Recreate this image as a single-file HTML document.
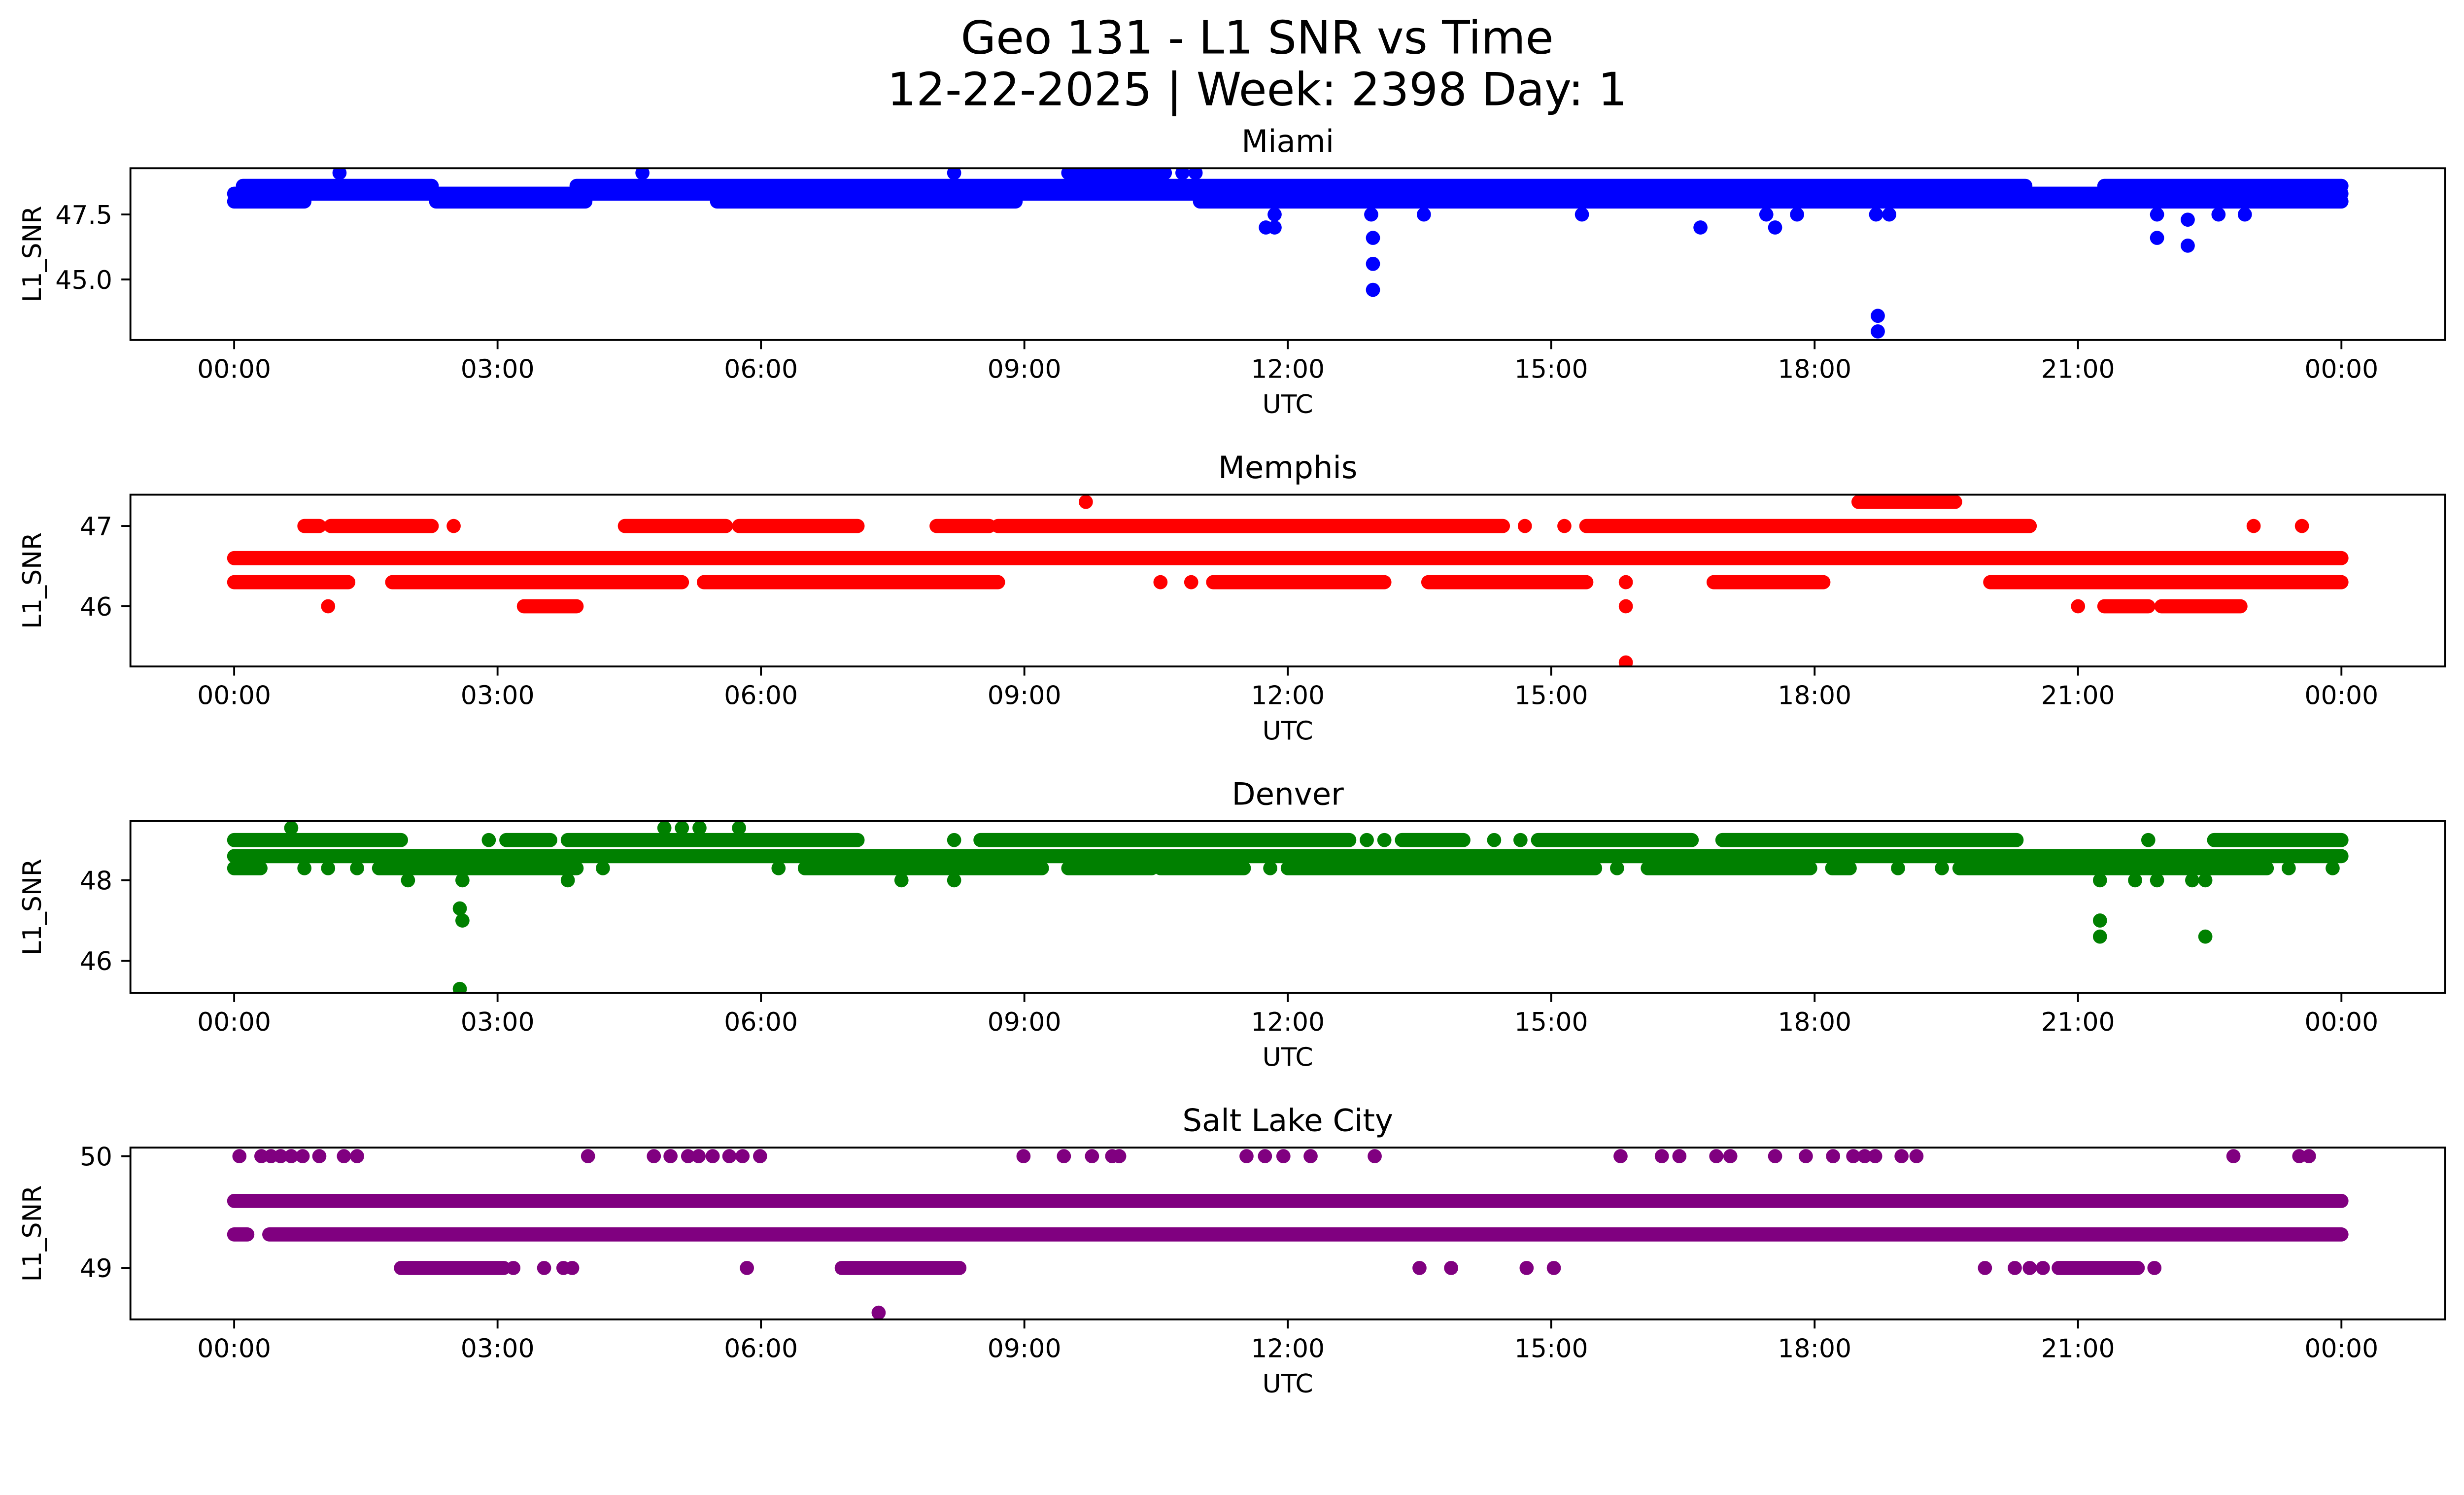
<!DOCTYPE html>
<html><head><meta charset="utf-8"><title>Geo 131 - L1 SNR vs Time</title>
<style>html,body{margin:0;padding:0;background:#fff;overflow:hidden}svg{display:block;width:100vw;height:calc(100vw * 3033 / 5278)}text{font-family:"DejaVu Sans","Liberation Sans",sans-serif;fill:#000}</style>
</head><body>
<svg id="chart" xmlns="http://www.w3.org/2000/svg" viewBox="0 0 1568 901" preserveAspectRatio="xMidYMid meet">
<text x="800" y="34" font-size="29" text-anchor="middle">Geo 131 - L1 SNR vs Time</text>
<text x="800" y="67" font-size="29" text-anchor="middle">12-22-2025 | Week: 2398 Day: 1</text>
</svg>
<script>
// ---- data (hours UTC, SNR values) ----
const xTickLabels = ["00:00","03:00","06:00","09:00","12:00","15:00","18:00","21:00","00:00"];
const xTickHours = [0,3,6,9,12,15,18,21,24];
const panelNames = ["Miami","Memphis","Denver","Salt Lake City"];
const panelColors = ["#0000ff","#ff0000","#008000","#800080"];
const yMins = [42.67, 45.25, 45.2, 48.54];
const yMaxs = [49.28, 47.39, 49.47, 50.077];
const yTicksMiami = [45.0, 47.5];
const yTicksMemphis = [46, 47];
const yTicksDenver = [46, 48];
const yTicksSLC = [49, 50];
const yTickLabelsMiami = ["45.0","47.5"];
const yTickLabelsMemphis = ["46","47"];
const yTickLabelsDenver = ["46","48"];
const yTickLabelsSLC = ["49","50"];

// runs: [startHour, endHour, value]
const runsMiami = [[0,24,48.3],[0,0.8,48.0],[2.3,4.0,48.0],[5.5,8.9,48.0],[11.0,24,48.0],[0.1,2.25,48.6],[3.9,20.4,48.6],[21.3,24,48.6],[9.5,10.6,49.1]];
const pointsMiami = [[1.2,49.1],[4.65,49.1],[8.2,49.1],[10.8,49.1],[10.95,49.1],[11.75,47.0],[11.85,47.0],[11.85,47.5],[12.95,47.5],[12.97,46.6],[12.97,45.6],[12.97,44.6],[13.55,47.5],[15.35,47.5],[16.7,47.0],[17.45,47.5],[17.55,47.0],[17.8,47.5],[18.7,47.5],[18.85,47.5],[18.72,43.6],[18.72,43.0],[21.9,47.5],[21.9,46.6],[22.25,47.3],[22.25,46.3],[22.6,47.5],[22.9,47.5]];

const runsMemphis = [[0,24,46.6],[0.8,0.97,47.0],[1.1,2.25,47.0],[4.45,5.6,47.0],[5.75,7.1,47.0],[8.0,8.6,47.0],[8.7,14.45,47.0],[15.4,20.45,47.0],[18.5,19.6,47.3],[0,1.3,46.3],[1.8,5.1,46.3],[5.35,8.7,46.3],[11.15,13.1,46.3],[13.6,15.4,46.3],[16.85,18.1,46.3],[20.0,24,46.3],[3.3,3.9,46.0],[21.3,21.8,46.0],[21.95,22.85,46.0]];
const pointsMemphis = [[2.5,47.0],[14.7,47.0],[15.15,47.0],[23.0,47.0],[23.55,47.0],[9.7,47.3],[10.55,46.3],[10.9,46.3],[15.85,46.3],[1.07,46.0],[15.85,46.0],[21.0,46.0],[15.85,45.3]];

const runsDenver = [[0,24,48.6],[0,1.9,49.0],[3.1,3.6,49.0],[3.8,7.1,49.0],[8.5,12.7,49.0],[13.3,14.0,49.0],[14.85,16.6,49.0],[16.95,20.3,49.0],[22.55,24,49.0],[0,0.3,48.3],[1.65,3.9,48.3],[6.5,9.2,48.3],[9.5,10.45,48.3],[10.55,11.5,48.3],[12.0,15.5,48.3],[16.1,17.95,48.3],[18.2,18.4,48.3],[19.65,23.15,48.3]];
const pointsDenver = [[0.65,49.3],[4.9,49.3],[5.1,49.3],[5.3,49.3],[5.75,49.3],[2.9,49.0],[8.2,49.0],[12.9,49.0],[13.1,49.0],[14.35,49.0],[14.65,49.0],[21.8,49.0],[0.8,48.3],[1.07,48.3],[1.4,48.3],[4.2,48.3],[6.2,48.3],[11.8,48.3],[15.75,48.3],[18.95,48.3],[19.45,48.3],[23.4,48.3],[23.9,48.3],[1.98,48.0],[2.6,48.0],[3.8,48.0],[7.6,48.0],[8.2,48.0],[21.25,48.0],[21.65,48.0],[21.9,48.0],[22.3,48.0],[22.45,48.0],[2.57,47.3],[2.6,47.0],[21.25,47.0],[21.25,46.6],[22.45,46.6],[2.57,45.3]];

const runsSLC = [[0,24,49.6],[0,0.15,49.3],[0.4,24,49.3],[1.9,3.07,49.0],[6.92,8.26,49.0],[20.78,21.68,49.0]];
const pointsSLC = [[0.06,50],[0.31,50],[0.42,50],[0.53,50],[0.65,50],[0.78,50],[0.97,50],[1.25,50],[1.4,50],[4.03,50],[4.78,50],[4.97,50],[5.17,50],[5.29,50],[5.45,50],[5.64,50],[5.79,50],[5.99,50],[8.99,50],[9.45,50],[9.77,50],[10.0,50],[10.08,50],[11.53,50],[11.74,50],[11.95,50],[12.26,50],[12.99,50],[15.79,50],[16.26,50],[16.46,50],[16.88,50],[17.04,50],[17.55,50],[17.9,50],[18.21,50],[18.44,50],[18.57,50],[18.69,50],[18.99,50],[19.16,50],[22.77,50],[23.52,50],[23.63,50],[3.18,49.0],[3.53,49.0],[3.75,49.0],[3.85,49.0],[5.84,49.0],[13.5,49.0],[13.86,49.0],[14.72,49.0],[15.03,49.0],[19.94,49.0],[20.28,49.0],[20.45,49.0],[20.6,49.0],[21.87,49.0],[7.34,48.6]];

const allRuns = [runsMiami, runsMemphis, runsDenver, runsSLC];
const allPoints = [pointsMiami, pointsMemphis, pointsDenver, pointsSLC];
const allYTicks = [yTicksMiami, yTicksMemphis, yTicksDenver, yTicksSLC];
const allYTickLabels = [yTickLabelsMiami, yTickLabelsMemphis, yTickLabelsDenver, yTickLabelsSLC];

// ---- layout ----
const NS = "http://www.w3.org/2000/svg";
const svg = document.getElementById("chart");
const axL = 83, axR = 1556, axH = 109.3, firstTop = 107, step = 207.7;
const x0 = 149, x24 = 1490;
const R = 4.5;
function xScale(h){ return x0 + (x24 - x0) * h / 24; }
function mk(tag, attrs, parent){ const e = document.createElementNS(NS, tag); for (const k in attrs) e.setAttribute(k, attrs[k]); (parent||svg).appendChild(e); return e; }

for (let p = 0; p < 4; p++) {
  const top = firstTop + p * step, bot = top + axH;
  const yScale = v => bot - (v - yMins[p]) / (yMaxs[p] - yMins[p]) * axH;
  const g = mk("g", {});
  
  
  const clipId = "clip" + p;
  const cp = mk("clipPath", {id: clipId}, g);
  mk("rect", {x: axL, y: top, width: axR - axL, height: axH}, cp);
  const marks = mk("g", {"clip-path": "url(#" + clipId + ")", fill: panelColors[p], stroke: panelColors[p]}, g);
  
  
  allRuns[p].forEach(r => {
    const ln = mk("line", {x1: xScale(r[0]), x2: xScale(r[1]), y1: yScale(r[2]), y2: yScale(r[2]), "stroke-width": 2 * R, "stroke-linecap": "round"}, marks);
    
    
  });
  allPoints[p].forEach(pt => {
    const c = mk("circle", {cx: xScale(pt[0]), cy: yScale(pt[1]), r: R, stroke: "none"}, marks);
    
    
  });
  const frame = mk("rect", {x: axL, y: top, width: axR - axL, height: axH, fill: "none", stroke: "#000", "stroke-width": 1.2}, g);
  
  
  xTickHours.forEach((h, i) => {
    const x = xScale(h);
    const t = mk("line", {x1: x, x2: x, y1: bot, y2: bot + 5.8, stroke: "#000", "stroke-width": 1.2}, g);
    
    
    const tl = mk("text", {x: x, y: bot + 24, "font-size": 16.3, "text-anchor": "middle"}, g);
    
    
    tl.textContent = xTickLabels[i];
  });
  allYTicks[p].forEach((v, i) => {
    const y = yScale(v);
    const t = mk("line", {x1: axL - 5.8, x2: axL, y1: y, y2: y, stroke: "#000", "stroke-width": 1.2}, g);
    
    
    const tl = mk("text", {x: axL - 11.5, y: y + 5.9, "font-size": 16.3, "text-anchor": "end"}, g);
    
    
    tl.textContent = allYTickLabels[p][i];
  });
  const xl = mk("text", {x: (axL + axR) / 2, y: bot + 46.5, "font-size": 16.3, "text-anchor": "middle"}, g);
  
  
  xl.textContent = "UTC";
  const yl = mk("text", {x: 0, y: 0, "font-size": 16.3, "text-anchor": "middle", transform: "translate(26," + (top + axH / 2) + ") rotate(-90)"}, g);
  
  
  yl.textContent = "L1_SNR";
  const tt = mk("text", {x: (axL + axR) / 2, y: top - 10.5, "font-size": 19.6, "text-anchor": "middle"}, g);
  
  
  tt.textContent = panelNames[p];
}
</script>
</body></html>
